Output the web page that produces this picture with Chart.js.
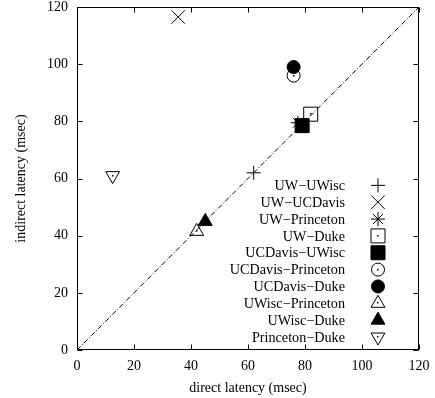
<!DOCTYPE html>
<html>
<head>
<meta charset="utf-8">
<script src="https://cdn.jsdelivr.net/npm/chart.js@4.4.0/dist/chart.umd.min.js"></script>
<style>
  html, body { margin: 0; padding: 0; background: #fff; }
</style>
</head>
<body>
<canvas id="myChart" width="435" height="398"></canvas>
<script>
let pairs = ["UW\u2212UWisc", "UW\u2212UCDavis", "UW\u2212Princeton", "UW\u2212Duke", "UCDavis\u2212UWisc",
  "UCDavis\u2212Princeton", "UCDavis\u2212Duke", "UWisc\u2212Princeton", "UWisc\u2212Duke", "Princeton\u2212Duke"];
let directLatency = [62, 35.5, 77.5, 82, 79, 76, 76, 42, 45, 12.5];
let indirectLatency = [62, 116.5, 79.5, 82.5, 78.5, 96, 99, 41.5, 45, 61];
let diagonal = [0, 120];
let tickValues = [0, 20, 40, 60, 80, 100, 120];

// gnuplot style markers: [pointStyle, radius, filled, rotation, centre dot]
let markers = [
  ['cross', 7, false, 0, false],
  ['crossRot', 9.5, false, 0, false],
  ['star', 7, false, 0, false],
  ['rect', 9.9, false, 0, true],
  ['rect', 9.9, true, 0, false],
  ['circle', 6.5, false, 0, true],
  ['circle', 6.5, true, 0, false],
  ['triangle', 8, false, 0, true],
  ['triangle', 8, true, 0, false],
  ['triangle', 8, false, 180, true]
];

let serif = "'Liberation Serif', 'Times New Roman', serif";
Chart.defaults.color = '#000';
Chart.defaults.font.family = serif;
Chart.defaults.font.size = 14;

let datasets = pairs.map((name, i) => {
  let m = markers[i];
  return {
    label: name,
    data: [{x: directLatency[i], y: indirectLatency[i]}],
    pointStyle: m[0],
    pointRadius: m[1],
    pointRotation: m[3],
    backgroundColor: m[2] ? '#000' : 'rgba(0,0,0,0)',
    borderColor: '#000',
    borderWidth: 1,
    order: pairs.length - i,
    centreDot: m[4]
  };
});

datasets.push({
  type: 'line',
  label: 'y=x',
  data: diagonal.map(v => ({x: v, y: v})),
  borderColor: '#000',
  borderWidth: 1,
  borderDash: [5, 2, 1, 2],
  pointRadius: 0,
  order: 100
});

// box, inward ticks on all sides, centre dots and the key
let gnuplotFrame = {
  id: 'gnuplotFrame',
  afterDatasetsDraw(chart) {
    let ctx = chart.ctx;
    let a = chart.chartArea;
    let sx = chart.scales.x, sy = chart.scales.y;
    let L = Math.round(a.left) + 0.5, R = Math.round(a.right) - 0.5;
    let T = Math.round(a.top) + 0.5, B = Math.round(a.bottom) - 0.5;
    ctx.save();
    ctx.strokeStyle = '#000';
    ctx.lineWidth = 1;
    ctx.setLineDash([]);
    ctx.strokeRect(L, T, R - L, B - T);
    ctx.beginPath();
    tickValues.forEach(v => {
      let px = Math.round(sx.getPixelForValue(v)) + 0.5;
      ctx.moveTo(px, B); ctx.lineTo(px, B - 5);
      ctx.moveTo(px, T); ctx.lineTo(px, T + 5);
      let py = Math.round(sy.getPixelForValue(v)) + 0.5;
      ctx.moveTo(L, py); ctx.lineTo(L + 5, py);
      ctx.moveTo(R, py); ctx.lineTo(R - 5, py);
    });
    ctx.stroke();

    // small dot in the middle of open markers
    ctx.fillStyle = '#000';
    chart.data.datasets.forEach((ds, i) => {
      if (!ds.centreDot) return;
      chart.getDatasetMeta(i).data.forEach(pt => {
        ctx.fillRect(Math.round(pt.x) - 1, Math.round(pt.y) - 1, 1.5, 1.5);
      });
    });

    // key: text right aligned, marker to the right
    let textRight = a.right - 74;
    let markX = a.right - 41;
    let rowH = 16.85;
    let y0 = a.bottom - 13 - rowH * (pairs.length - 1);
    ctx.font = '14.2px ' + serif;
    ctx.textAlign = 'right';
    ctx.textBaseline = 'middle';
    pairs.forEach((name, i) => {
      let m = markers[i];
      let yy = y0 + i * rowH;
      ctx.fillStyle = '#000';
      ctx.fillText(name, textRight, yy + 1);
      ctx.fillStyle = m[2] ? '#000' : 'rgba(0,0,0,0)';
      ctx.strokeStyle = '#000';
      ctx.lineWidth = 1;
      Chart.helpers.drawPoint(ctx, {pointStyle: m[0], radius: m[1], rotation: m[3], borderWidth: 1}, markX, yy);
      if (m[4]) {
        ctx.fillStyle = '#000';
        ctx.fillRect(Math.round(markX) - 1, Math.round(yy) - 1, 1.5, 1.5);
      }
    });
    ctx.restore();
  }
};

let ctx = document.getElementById('myChart').getContext('2d');
let myChart = new Chart(ctx, {
  type: 'scatter',
  data: { datasets: datasets },
  options: {
    responsive: false,
    animation: false,
    devicePixelRatio: 1,
    layout: { autoPadding: false, padding: { top: 7, right: 16, left: 0, bottom: 0 } },
    plugins: {
      legend: { display: false },
      tooltip: { enabled: false }
    },
    scales: {
      x: {
        type: 'linear',
        min: 0,
        max: 120,
        afterFit(scale) { scale.height = 48; scale.paddingLeft = 0; scale.paddingRight = 0; },
        afterBuildTicks(scale) { scale.ticks = tickValues.map(v => ({value: v})); },
        grid: { display: true, drawOnChartArea: false, drawTicks: false },
        border: { display: false },
        ticks: { padding: 8, maxRotation: 0, font: { size: 14, family: serif }, color: '#000' },
        title: { display: true, text: 'direct latency (msec)', padding: { top: 0, bottom: 1 }, font: { size: 14, family: serif }, color: '#000' }
      },
      y: {
        type: 'linear',
        min: 0,
        max: 120,
        afterFit(scale) { scale.width = 77; scale.paddingTop = 0; scale.paddingBottom = 0; },
        afterBuildTicks(scale) { scale.ticks = tickValues.map(v => ({value: v})); },
        grid: { display: true, drawOnChartArea: false, drawTicks: false },
        border: { display: false },
        ticks: { padding: 9, font: { size: 14, family: serif, lineHeight: 1 }, color: '#000' },
        title: { display: true, text: 'indirect latency (msec)', padding: { top: 13, bottom: 0 }, font: { size: 14, family: serif }, color: '#000' }
      }
    }
  },
  plugins: [gnuplotFrame]
});
</script>
</body>
</html>
